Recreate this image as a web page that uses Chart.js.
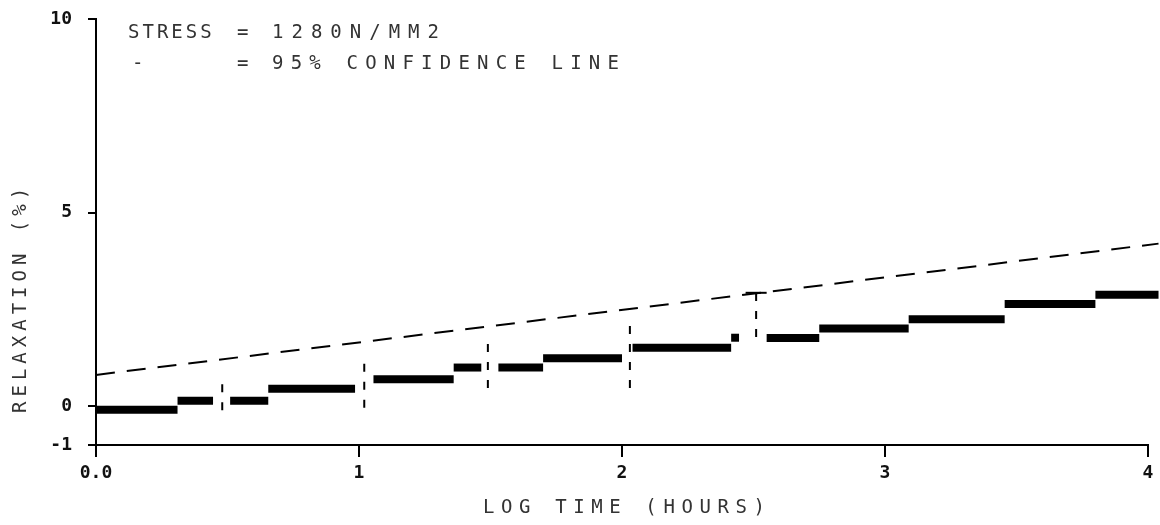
<!DOCTYPE html>
<html>
<head>
<meta charset="utf-8">
<script src="https://cdn.jsdelivr.net/npm/chart.js@4.4.1/dist/chart.umd.min.js"></script>
<style>
  html, body { margin: 0; padding: 0; background: #fff; }
  #wrap { width: 1160px; height: 525px; position: relative; }
</style>
</head>
<body>
<div id="wrap"><canvas id="chart"></canvas></div>
<script>
// axis ticks
const xTicks = [0, 1, 2, 3, 4];
const yTicks = [-1, 0, 5, 10];

// relaxation steps (log time start/end, relaxation %)
const stepStart = [0.0, 0.31, 0.51, 0.655, 1.055, 1.36, 1.53, 1.70, 2.04, 2.415, 2.55, 2.75, 3.09, 3.455, 3.80];
const stepEnd   = [0.31, 0.445, 0.655, 0.985, 1.36, 1.465, 1.70, 2.0, 2.415, 2.445, 2.75, 3.09, 3.455, 3.80, 4.04];
const stepLevel = [-0.09, 0.145, 0.145, 0.45, 0.70, 1.0, 1.0, 1.24, 1.51, 1.77, 1.76, 2.01, 2.25, 2.64, 2.88];

// vertical dashed bars
const barX    = [0.48, 1.02, 1.49, 2.03, 2.51];
const barLow  = [-0.10, -0.04, 0.47, 0.47, 1.79];
const barHigh = [0.76, 1.25, 1.79, 2.31, 2.93];
const capX = [2.47, 2.55];
const capY = 2.93;

// 95% confidence line
const confX = [0, 4.04];
const confY = [0.81, 4.2];

const datasets = [];

stepLevel.forEach((lv, i) => {
  datasets.push({
    data: [{ x: stepStart[i], y: lv }, { x: stepEnd[i], y: lv }],
    borderColor: "#000",
    borderWidth: 8,
    borderCapStyle: "butt",
    pointRadius: 0,
  });
});

barX.forEach((bx, i) => {
  datasets.push({
    data: [{ x: bx, y: barLow[i] }, { x: bx, y: barHigh[i] }],
    borderColor: "#000",
    borderWidth: 2,
    borderDash: [8, 10],
    pointRadius: 0,
  });
});

datasets.push({
  data: [{ x: capX[0], y: capY }, { x: capX[1], y: capY }],
  borderColor: "#000",
  borderWidth: 2,
  pointRadius: 0,
});

datasets.push({
  data: confX.map((x, i) => ({ x, y: confY[i] })),
  borderColor: "#000",
  borderWidth: 2,
  borderDash: [19, 12],
  pointRadius: 0,
});

const MONO = "'DejaVu Sans Mono', 'Liberation Mono', monospace";

function spaced(ctx, text, x, y, spacing) {
  ctx.letterSpacing = spacing + "px";
  ctx.fillText(text, x, y);
  ctx.letterSpacing = "0px";
}

const textPlugin = {
  id: "plotterText",
  afterDraw(chart) {
    const ctx = chart.ctx;
    ctx.save();
    ctx.fillStyle = "#333";
    ctx.font = "19px " + MONO;
    ctx.textBaseline = "middle";
    ctx.textAlign = "left";
    // key
    spaced(ctx, "STRESS", 128, 33, 3);
    spaced(ctx, "=", 237, 33, 0);
    spaced(ctx, "1280N/MM2", 272, 33, 8);
    spaced(ctx, "-", 132, 64, 0);
    spaced(ctx, "=", 237, 64, 0);
    spaced(ctx, "95% CONFIDENCE LINE", 272, 64, 7.2);
    // x title
    spaced(ctx, "LOG TIME (HOURS)", 483, 508, 6.6);
    // y title
    ctx.translate(21, 413);
    ctx.rotate(-Math.PI / 2);
    spaced(ctx, "RELAXATION (%)", 0, 0, 5);
    ctx.restore();
  },
};

new Chart(document.getElementById("chart").getContext("2d"), {
  type: "line",
  data: { datasets },
  options: {
    responsive: true,
    maintainAspectRatio: false,
    animation: false,
    clip: false,
    layout: { padding: { top: 19, right: 12, left: 0, bottom: 0 } },
    plugins: { legend: { display: false }, tooltip: { enabled: false } },
    scales: {
      x: {
        type: "linear",
        min: 0,
        max: 4,
        afterBuildTicks: (s) => { s.ticks = xTicks.map((v) => ({ value: v })); },
        afterFit: (s) => { s.height = 80; s.paddingLeft = 0; s.paddingRight = 0; },
        border: { color: "#000", width: 2 },
        grid: { drawOnChartArea: false, color: "#000", lineWidth: 2, tickLength: 12 },
        ticks: {
          color: "#111",
          padding: 6,
          font: { family: MONO, size: 18, weight: "bold" },
          callback: (v) => (v === 0 ? "0.0" : String(v)),
        },
      },
      y: {
        type: "linear",
        min: -1,
        max: 10,
        afterBuildTicks: (s) => { s.ticks = yTicks.map((v) => ({ value: v })); },
        afterFit: (s) => { s.width = 96; s.paddingTop = 0; s.paddingBottom = 0; },
        border: { color: "#000", width: 2 },
        grid: { drawOnChartArea: false, color: "#000", lineWidth: 2, tickLength: 8 },
        ticks: {
          color: "#111",
          padding: 16,
          font: { family: MONO, size: 18, weight: "bold" },
        },
      },
    },
  },
  plugins: [textPlugin],
});
</script>
</body>
</html>
